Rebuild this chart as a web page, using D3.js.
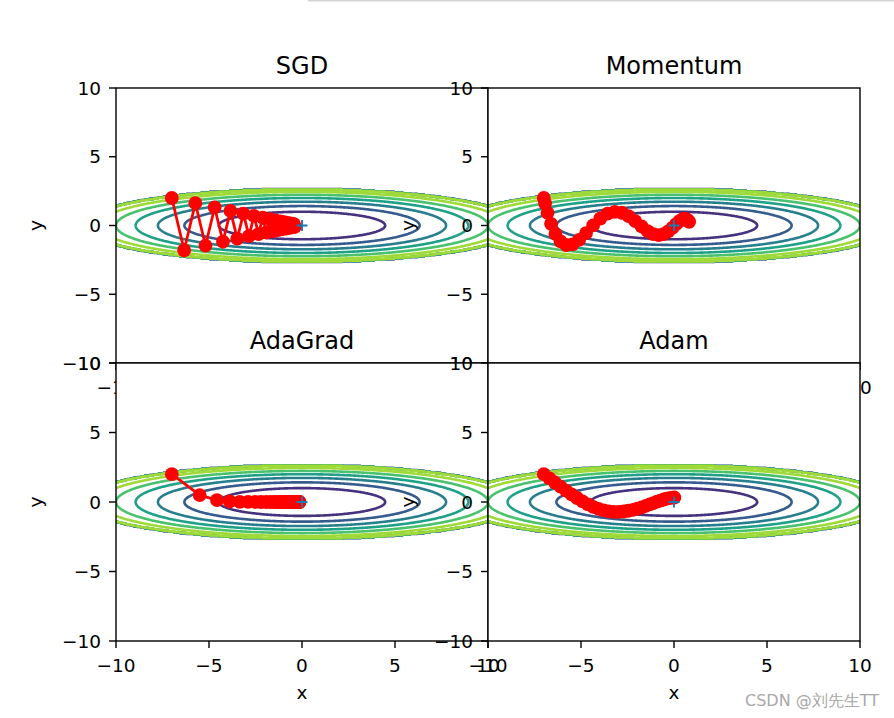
<!DOCTYPE html>
<html><head><meta charset="utf-8">
<script src="https://cdn.jsdelivr.net/npm/d3@7"></script>
<style>
body{margin:0;background:#fff}
svg{display:block}
text{font-family:"DejaVu Sans",sans-serif}
</style>
</head><body>
<svg id="c" width="894" height="718"></svg>
<script>
// ---------- data ----------
const titles = ["SGD", "Momentum", "AdaGrad", "Adam"];
const xTicks = [-10, -5, 0, 5, 10];
const yTicks = [-10, -5, 0, 5, 10];
const contourLevels = [0, 1, 2, 3, 4, 5, 6, 7];
const minimum = [0, 0];

const sgdX = [-7.000,-6.335,-5.733,-5.189,-4.696,-4.250,-3.846,-3.480,-3.150,-2.851,-2.580,-2.335,-2.113,-1.912,-1.731,-1.566,-1.417,-1.283,-1.161,-1.051,-0.951,-0.860,-0.779,-0.705,-0.638,-0.577,-0.522,-0.473,-0.428,-0.387];
const sgdY = [2.000,-1.800,1.620,-1.458,1.312,-1.181,1.063,-0.957,0.861,-0.775,0.697,-0.628,0.565,-0.508,0.458,-0.412,0.371,-0.334,0.300,-0.270,0.243,-0.219,0.197,-0.177,0.160,-0.144,0.129,-0.116,0.105,-0.094];

const momX = [-7.000,-6.930,-6.798,-6.611,-6.376,-6.101,-5.793,-5.458,-5.101,-4.729,-4.348,-3.960,-3.572,-3.187,-2.809,-2.440,-2.084,-1.743,-1.418,-1.112,-0.825,-0.558,-0.313,-0.089,0.113,0.295,0.455,0.594,0.714,0.814];
const momY = [2.000,1.600,0.920,0.124,-0.617,-1.161,-1.418,-1.366,-1.046,-0.548,0.009,0.509,0.857,0.998,0.927,0.676,0.316,-0.071,-0.406,-0.626,-0.699,-0.624,-0.433,-0.174,0.094,0.316,0.453,0.486,0.418,0.273];

const adaX = [-7.000,-5.500,-4.573,-3.888,-3.345,-2.899,-2.524,-2.206,-1.932,-1.695,-1.489,-1.310,-1.153,-1.015,-0.895,-0.788,-0.695,-0.613,-0.540,-0.477,-0.420,-0.371,-0.327,-0.289,-0.255,-0.225,-0.198,-0.175,-0.154,-0.136];
const adaY = [2.000,0.500,0.1362,0.0373,0.0102,0.0028,0.0008,0.0002,0.0001,0.0000,0,0,0,0,0,0,0,0,0,0,0,0,0,0,0,0,0,0,0,0];

const adamX = [-7.000,-6.700,-6.400,-6.102,-5.804,-5.507,-5.213,-4.920,-4.630,-4.343,-4.059,-3.780,-3.504,-3.234,-2.969,-2.710,-2.457,-2.211,-1.973,-1.743,-1.522,-1.309,-1.106,-0.913,-0.730,-0.558,-0.396,-0.246,-0.107,0.020];
const adamY = [2.000,1.700,1.402,1.109,0.823,0.548,0.288,0.049,-0.164,-0.346,-0.492,-0.600,-0.671,-0.706,-0.708,-0.682,-0.631,-0.561,-0.476,-0.380,-0.279,-0.176,-0.075,0.021,0.106,0.180,0.239,0.283,0.310,0.322];

const seriesX = [sgdX, momX, adaX, adamX];
const seriesY = [sgdY, momY, adaY, adamY];

// objective surface f(x,y) = x^2/20 + y^2, values above 7 masked to 0 (as in the original script)
function f(x, y) { return x * x / 20 + y * y; }

// ---------- layout ----------
const W = 372;
const panels = [
  {left: 116, top: 88,  h: 275},
  {left: 488, top: 88,  h: 275},
  {left: 116, top: 363, h: 278},
  {left: 488, top: 363, h: 278}
];
const TICK_FS = 18.5, TITLE_FS = 24, LABEL_FS = 18.5;

// contour grid
const gx0 = -12.5, gy0 = -5, step = 0.05, nx = 501, ny = 201;
const grid = new Float64Array(nx * ny);
for (let j = 0; j < ny; j++) for (let i = 0; i < nx; i++) {
  const z = f(gx0 + i * step, gy0 + j * step);
  grid[j * nx + i] = z > 7 ? 0 : z;
}
const [zmin, zmax] = d3.extent(grid);
const drawnLevels = contourLevels.filter(l => l > zmin && l < zmax);
const contours = d3.contours().size([nx, ny]).thresholds(drawnLevels)(grid);
const color = d3.scaleSequential(d3.interpolateViridis).domain(d3.extent(contourLevels));

const svg = d3.select("#c");
const defs = svg.append("defs");
const minus = s => String(s).replace("-", "\u2212");

// screenshot artefact line at top
svg.append("rect").attr("x", 308).attr("y", 0).attr("width", 586).attr("height", 1.5).attr("fill", "#d4d4d4");

panels.forEach((p, k) => {
  const x = d3.scaleLinear().domain([-10, 10]).range([p.left, p.left + W]);
  const y = d3.scaleLinear().domain([-10, 10]).range([p.top + p.h, p.top]);
  const g = svg.append("g");
  const cid = "clip" + k;
  defs.append("clipPath").attr("id", cid).append("rect")
    .attr("x", p.left).attr("y", p.top).attr("width", W).attr("height", p.h);

  // axes background
  g.append("rect").attr("x", p.left).attr("y", p.top).attr("width", W).attr("height", p.h).attr("fill", "#fff");

  const inner = g.append("g").attr("clip-path", `url(#${cid})`);
  const proj = d3.geoTransform({
    point(px, py) { this.stream.point(x(gx0 + (px - 0.5) * step), y(gy0 + (py - 0.5) * step)); }
  });
  const path = d3.geoPath(proj);
  inner.selectAll("path.ct").data(contours).join("path")
    .attr("class", "ct")
    .attr("d", path)
    .attr("fill", "none")
    .attr("stroke", d => color(d.value))
    .attr("stroke-width", 2.6)
    .attr("stroke-linejoin", "round");

  const pts = seriesX[k].map((v, i) => [v, seriesY[k][i]]);
  inner.append("path")
    .attr("d", d3.line().x(d => x(d[0])).y(d => y(d[1]))(pts))
    .attr("fill", "none").attr("stroke", "#ff0000").attr("stroke-width", 2.8).attr("stroke-linejoin", "round");
  inner.selectAll("circle").data(pts).join("circle")
    .attr("cx", d => x(d[0])).attr("cy", d => y(d[1])).attr("r", 6.9)
    .attr("fill", "#ff0000");

  // '+' marker at minimum
  const mx = x(minimum[0]), my = y(minimum[1]);
  inner.append("path")
    .attr("d", `M${mx - 5.5},${my}H${mx + 5.5}M${mx},${my - 5.5}V${my + 5.5}`)
    .attr("stroke", "#1f77b4").attr("stroke-width", 1.9);

  // spines
  g.append("rect").attr("x", p.left).attr("y", p.top).attr("width", W).attr("height", p.h)
    .attr("fill", "none").attr("stroke", "#000").attr("stroke-width", 1.4);

  // ticks
  const bottom = p.top + p.h;
  xTicks.forEach(t => {
    g.append("line").attr("x1", x(t)).attr("x2", x(t)).attr("y1", bottom).attr("y2", bottom + 7)
      .attr("stroke", "#000").attr("stroke-width", 1.4);
    g.append("text").attr("x", x(t)).attr("y", bottom + 31).attr("text-anchor", "middle")
      .attr("font-size", TICK_FS).attr("fill", "#000").text(minus(t));
  });
  yTicks.forEach(t => {
    g.append("line").attr("x1", p.left - 7).attr("x2", p.left).attr("y1", y(t)).attr("y2", y(t))
      .attr("stroke", "#000").attr("stroke-width", 1.4);
    g.append("text").attr("x", p.left - 15).attr("y", y(t) + 0.36 * TICK_FS).attr("text-anchor", "end")
      .attr("font-size", TICK_FS).attr("fill", "#000").text(minus(t));
  });

  // axis labels
  g.append("text").attr("x", p.left + W / 2).attr("y", bottom + 58).attr("text-anchor", "middle")
    .attr("font-size", LABEL_FS).attr("fill", "#000").text("x");
  g.append("text").attr("transform", `translate(${p.left - 74},${p.top + p.h / 2}) rotate(-90)`)
    .attr("text-anchor", "middle").attr("font-size", LABEL_FS).attr("fill", "#000").text("y");

  // title
  g.append("text").attr("x", p.left + W / 2).attr("y", p.top - 14).attr("text-anchor", "middle")
    .attr("font-size", TITLE_FS).attr("fill", "#000").text(titles[k]);
});

// watermark
svg.append("text").attr("x", 879).attr("y", 706).attr("text-anchor", "end")
  .attr("font-family", "'Noto Sans CJK SC', sans-serif").attr("font-size", 16).attr("fill", "#a8a8a8")
  .text("CSDN @刘先生TT");
</script>
</body></html>
